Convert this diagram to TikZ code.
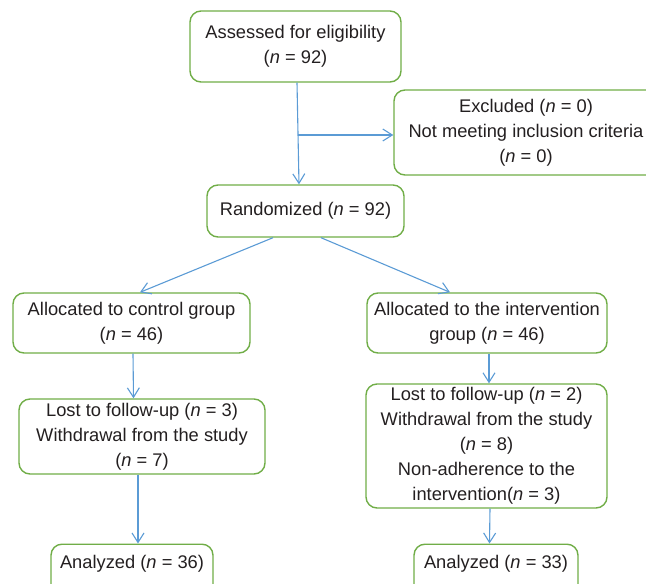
\documentclass[tikz,border=0pt]{standalone}
\usepackage{fontspec}
\setmainfont{Liberation Sans}
\usetikzlibrary{arrows.meta}
\definecolor{boxgreen}{RGB}{112,173,71}
\definecolor{arrblue}{RGB}{91,155,213}
\definecolor{txt}{RGB}{35,31,32}
\begin{document}
\begin{tikzpicture}[x=1pt,y=-1pt,
  flowbox/.style={draw=boxgreen,line width=1.4pt,rounded corners=11pt,align=center,
    inner sep=0pt,text=txt,font=\fontsize{18.3}{25}\selectfont},
  boxtext/.style={text=txt,font=\fontsize{18.3}{25}\selectfont,inner sep=0pt},
  arr/.style={draw=arrblue,line width=1.1pt,-{Straight Barb[length=9.5pt,width=12pt,line width=1.1pt]}}]
\useasboundingbox (0,0) rectangle (646,584);
\clip (0,0) rectangle (646,584);
\node[flowbox,minimum width=211pt,minimum height=71pt] (assess) at (295.5,46.5)
  {Assessed for eligibility\\(\textit{n} = 92)};
\node[flowbox,minimum width=264pt,minimum height=85pt] (excl) at (526,132.5)
  {Excluded (\textit{n} = 0)\\Not meeting inclusion criteria\\(\textit{n} = 0)};
\node[flowbox,minimum width=197pt,minimum height=52pt] (rand) at (305.5,211)
  {Randomized (\textit{n} = 92)};
\node[flowbox,minimum width=237pt,minimum height=60pt] (ctrl) at (131.5,323)
  {Allocated to control group\\(\textit{n} = 46)};
\node[flowbox,minimum width=240pt,minimum height=60pt] (intv) at (487,323)
  {Allocated to the intervention\\group (\textit{n} = 46)};
\node[flowbox,minimum width=246pt,minimum height=75pt] (ctrllost) at (142,436.5)
  {Lost to follow-up (\textit{n} = 3)\\Withdrawal from the study\\(\textit{n} = 7)};
\node[flowbox,minimum width=241pt,minimum height=124pt] (intvlost) at (486.5,446)
  {Lost to follow-up (\textit{n} = 2)\\Withdrawal from the study\\(\textit{n} = 8)\\Non-adherence to the\\intervention(\textit{n} = 3)};
\node[flowbox,minimum width=162pt,minimum height=60pt,anchor=north] (ctrlan) at (132,543.5) {};
\node[boxtext] (ctrlantext) at (132,564) {Analyzed (\textit{n} = 36)};
\node[flowbox,minimum width=164pt,minimum height=60pt,anchor=north] (intvan) at (496,543.5) {};
\node[boxtext] (intvantext) at (496,564) {Analyzed (\textit{n} = 33)};
\coordinate (branch) at (298,135);
\draw[arr] ([xshift=1.5pt]assess.south) -- ([xshift=-6.5pt]rand.north);
\draw[arr] (branch) -- (branch -| excl.west);
\draw[arr] ([xshift=-32.5pt]rand.south) -- ([xshift=8.5pt]ctrl.north);
\draw[arr] ([xshift=15.5pt]rand.south) -- ([xshift=-37pt]intv.north);
\draw[arr] ([xshift=1.5pt]ctrl.south) -- ([xshift=-8.5pt]ctrllost.north);
\draw[arr] ([xshift=-4pt]ctrllost.south) -- ([xshift=6pt]ctrlan.north);
\draw[arr] ([xshift=2pt]intv.south) -- ([xshift=2.5pt]intvlost.north);
\draw[arr] ([xshift=3.5pt]intvlost.south) -- ([xshift=-6.5pt]intvan.north);
\end{tikzpicture}
\end{document}
